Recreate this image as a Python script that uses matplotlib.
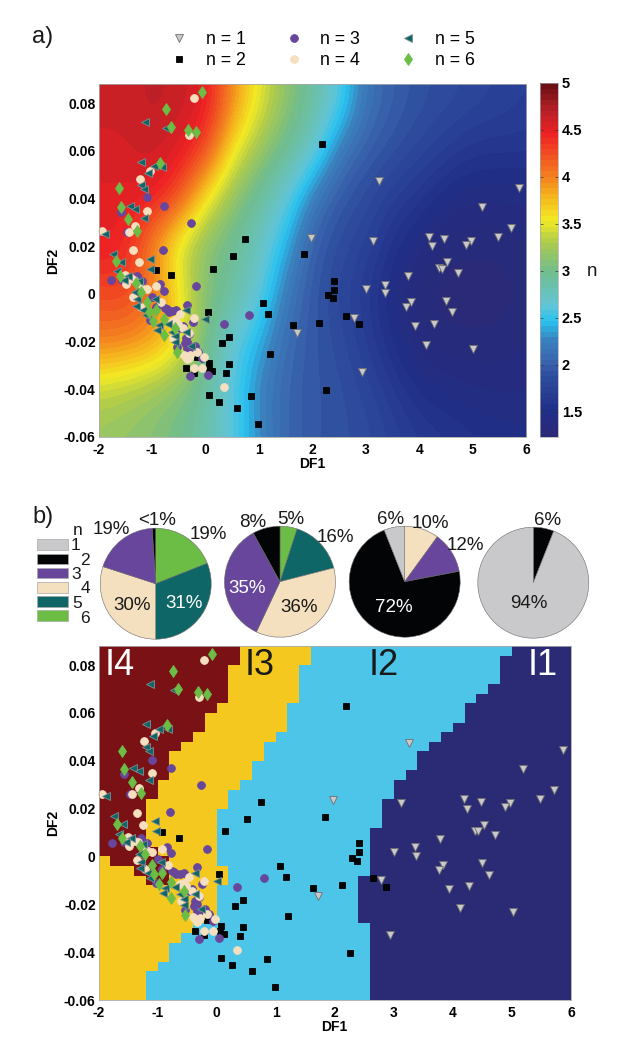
import numpy as np
import matplotlib
matplotlib.use("Agg")
import matplotlib.pyplot as plt
from matplotlib.colors import LinearSegmentedColormap, ListedColormap
from matplotlib.patches import Rectangle

plt.rcParams["font.family"] = ["Liberation Sans", "DejaVu Sans"]

W, H = 619, 1050

# ==========================
# Scatter points (DF1, DF2) for each n
# ==========================
n1_x = [3.25, 5.86, 5.18, 5.71, 5.47, 1.97, 3.13, 4.18, 4.47, 4.24, 4.97, 4.88, 4.52, 4.37, 4.43, 4.72,
        3.79, 3.36, 3.0, 3.37, 4.5, 3.84, 3.76, 4.62, 2.79, 4.28, 3.93, 4.12, 5.01, 2.94, 1.71]
n1_y = [0.0475, 0.0446, 0.0365, 0.0277, 0.0239, 0.0236, 0.0223, 0.024, 0.0229, 0.02, 0.0222, 0.0207, 0.0133, 0.0108, 0.0105, 0.0088,
        0.0074, 0.0038, 0.002, 0.0003, -0.0029, -0.0036, -0.0057, -0.0078, -0.01, -0.0125, -0.0135, -0.0214, -0.0232, -0.0328, -0.0165]

n2_x = [2.19, 1.84, 2.41, 2.41, 2.29, 2.38, 2.64, 2.87, 2.13, 2.25, 0.75, 0.51, 0.14, -0.93, -0.64, 1.07, 1.17, 1.64,
        0.44, 0.31, 0.04, 1.21, -0.16, 0.07, 0.44, -0.36, -0.22, 0.12, 0.39, 0.06, 0.07, 0.86, 0.26, 0.6, 0.98]
n2_y = [0.0629, 0.0166, 0.0056, 0.0017, -0.0005, -0.0018, -0.0091, -0.0127, -0.012, -0.0403, 0.0229, 0.0158, 0.0106, 0.0101, 0.0078, -0.0038, -0.0084, -0.0131,
        -0.0182, -0.0207, -0.0075, -0.025, -0.0265, -0.0291, -0.0295, -0.031, -0.033, -0.0322, -0.0331, -0.0312, -0.0426, -0.0429, -0.0454, -0.0479, -0.0544]

n3_x = [-1.09, -0.78, -1.57, -0.26, -1.46, -0.79, -1.77, -1.28, -1.18, -1.56, -0.84, -0.77, -0.17, -0.34, -0.55, -0.69, -0.75,
        0.81, 0.34, -0.24, -1.03, -0.47, -0.37, -0.34, -0.34, -0.54, -0.28, -0.13, -0.06, -0.29, 0.04, -0.93, -1.0,
        -0.62, -0.42, -0.3, -0.2, -0.38, -0.72]
n3_y = [0.0405, 0.0368, 0.0344, 0.0299, 0.026, 0.0186, 0.0057, 0.0077, 0.0056, 0.0059, 0.0041, 0.0014, 0.0032, -0.0045, -0.0067, -0.0074, -0.006,
        -0.0089, -0.0126, -0.0116, -0.0109, -0.0144, -0.0186, -0.02, -0.0228, -0.0224, -0.0228, -0.0242, -0.027, -0.0343, -0.034, -0.0053, -0.0011,
        -0.0072, -0.0135, -0.0168, -0.0218, -0.0205, -0.0065]

n4_x = [-0.21, -0.3, -1.04, -1.23, -1.1, -1.32, -1.94, -1.43, -1.35, -1.24, -1.5, -1.4, -1.48, -1.33, -1.09, -0.92, -1.35, -0.83,
        -0.47, -0.56, -0.62, -0.22, -0.3, -0.61, -0.16, -0.37, -0.31, -0.02, -0.21, -0.06, 0.34, -1.21,
        -1.25, -1.16, -0.52, -0.42, -0.4, -0.34, -0.28]
n4_y = [0.082, 0.0667, 0.0517, 0.0481, 0.0348, 0.0286, 0.0263, 0.0261, 0.0182, 0.0133, 0.008, 0.0066, 0.0042, 0.0059, 0.002, 0.0032, -0.0014, -0.0035,
        -0.0084, -0.0109, -0.0116, -0.0102, -0.0165, -0.0186, -0.0242, -0.0263, -0.027, -0.0263, -0.0312, -0.0312, -0.0391, -0.0053,
        0.0045, 0.0022, -0.0125, -0.0145, -0.0255, -0.0275, -0.0258]

n5_x = [-1.13, -0.73, -1.2, -0.97, -0.82, -1.07, -1.2, -1.14, -1.41, -1.31, -1.15, -1.87, -1.73, -1.58, -1.04, -1.03, -1.65, -1.45,
        -1.53, -1.25, -1.32, -1.28, -0.95, -1.3, -1.16, -0.36, 0.0, -1.12, -0.7, -0.87, -0.9, -0.62, -0.36, -0.56, -0.56, -0.26]
n5_y = [0.072, 0.0697, 0.0553, 0.0535, 0.0533, 0.0505, 0.0458, 0.044, 0.0369, 0.0358, 0.032, 0.0252, 0.0169, 0.0135, 0.0148, 0.0106, 0.0094, 0.0077,
        0.0059, 0.0052, 0.001, -0.0022, -0.0022, -0.005, -0.0067, -0.0067, -0.0104, -0.0088, -0.0126, -0.013, -0.0151, -0.0158, -0.0158, -0.0176, -0.0203, -0.022]

n6_x = [-0.07, -0.74, -0.65, -0.32, -0.17, -0.84, -1.61, -1.57, -1.44, -1.28, -1.68, -1.6, -1.3, -1.21, -1.09, -0.92, -1.06, -0.78, -0.98, -0.56, -0.77, -0.54]
n6_y = [0.0847, 0.0777, 0.0699, 0.0686, 0.0679, 0.0548, 0.0442, 0.0365, 0.0312, 0.0265, 0.0137, 0.0077, 0.0045, 0.001, -0.0036, -0.0067, -0.0074, -0.0106, -0.0113, -0.0143, -0.0172, -0.0243]

point_x = [n1_x, n2_x, n3_x, n4_x, n5_x, n6_x]
point_y = [n1_y, n2_y, n3_y, n4_y, n5_y, n6_y]

# ==========================
# Background surface of panel a
# rows go from DF2 = 0.08 down to -0.06, columns DF1 = -2 to 6 in 0.5 steps
# ==========================
field_n = np.array([
    [4.6, 4.6, 4.68, 4.62, 4.55, 3.95, 3.5, 3.15, 2.9, 2.6, 2.15, 2.0, 1.9, 1.85, 1.8, 1.75, 1.7],
    [4.58, 4.58, 4.62, 4.55, 4.3, 3.55, 3.2, 2.95, 2.7, 2.2, 2.0, 1.9, 1.8, 1.7, 1.6, 1.6, 1.6],
    [4.5, 4.5, 4.52, 4.25, 3.55, 3.15, 2.9, 2.65, 2.2, 1.95, 1.85, 1.7, 1.6, 1.45, 1.4, 1.4, 1.4],
    [4.5, 4.45, 3.95, 3.4, 3.1, 2.95, 2.75, 2.4, 2.0, 1.85, 1.75, 1.55, 1.4, 1.3, 1.3, 1.3, 1.35],
    [4.25, 4.3, 4.1, 3.6, 3.1, 2.9, 2.65, 2.2, 1.95, 1.8, 1.65, 1.45, 1.3, 1.25, 1.25, 1.25, 1.3],
    [4.05, 4.0, 3.9, 3.6, 3.0, 2.65, 2.4, 2.1, 1.95, 1.85, 1.7, 1.5, 1.35, 1.3, 1.3, 1.3, 1.35],
    [3.35, 3.3, 3.2, 3.1, 2.9, 2.6, 2.25, 2.05, 1.95, 1.9, 1.8, 1.65, 1.5, 1.45, 1.4, 1.4, 1.4],
    [3.2, 3.15, 3.1, 3.0, 2.85, 2.6, 2.3, 2.05, 1.95, 1.9, 1.85, 1.75, 1.65, 1.6, 1.55, 1.5, 1.5],
])

# ==========================
# Class regions of panel b: DF1 boundaries per row, top row first
# each row spans 0.004 in DF2, each column 0.2 in DF1
# ==========================
i4_left = [-2] * 22 + [-1.8, -1.4, -1.2] + [-2] * 12
i4_right = [0.4, 0.4, 0.2, 0.2, 0.2, 0.2, 0.0, -0.2, -0.2, -0.4, -0.6, -0.8, -0.8, -0.8, -1.0, -1.0, -1.2, -1.2,
            -1.2, -1.2, -1.2, -1.0, -0.8, -0.8, -0.8] + [-2] * 12
i3_right = [1.6, 1.6, 1.4, 1.4, 1.4, 1.4, 1.2, 1.2, 1.2, 1.0, 0.8, 0.8, 0.6, 0.6, 0.4, 0.2, 0.2, 0.0,
            0.0, 0.0, 0.0, 0.0, 0.0, 0.2, 0.2, 0.0, 0.0, 0.0, 0.0, -0.4, -0.6, -0.8, -0.8, -1.0, -1.2, -1.2, -1.2]
i2_right = [5.0, 4.8, 4.8, 4.8, 4.6, 4.4, 4.2, 4.2, 4.0, 3.8, 3.6, 3.4, 3.4, 3.2, 3.0, 3.0, 2.8, 2.8,
            2.8, 2.6, 2.6, 2.6, 2.6, 2.6, 2.4, 2.4, 2.4, 2.4, 2.4, 2.6, 2.6, 2.6, 2.6, 2.6, 2.6, 2.6, 2.6]

# ==========================
# Pie shares, clockwise from the top
# ==========================
pie_values = [[19, 31, 30, 19, 1], [5, 16, 36, 35, 8], [10, 12, 72, 6], [6, 94]]
pie_classes = [[5, 4, 3, 2, 1], [5, 4, 3, 2, 1], [3, 2, 1, 0], [1, 0]]

n_colors = ["#c9c9cb", "#030405", "#67469c", "#f4dfbf", "#0f6666", "#6cbd45"]
n_labels = ["n = 1", "n = 2", "n = 3", "n = 4", "n = 5", "n = 6"]
n_markers = ["v", "s", "o", "o", "<", "d"]
n_sizes = [5.6, 4.4, 5.6, 5.6, 6.0, 6.6]
n_edges = ["#6f6f6f", "#000000", "#67469c", "#f4dfbf", "#7f8f95", "#6cbd45"]

jet_like = LinearSegmentedColormap.from_list("jet_like", [
    (0.0, "#2a2a78"), (0.07, "#212f88"), (0.17, "#2f4e9f"), (0.21, "#3a64ad"), (0.27, "#3a82bf"),
    (0.325, "#29c3f0"), (0.37, "#63c5d6"), (0.47, "#72bd8c"), (0.55, "#aecb4d"), (0.615, "#f3ea24"),
    (0.68, "#f6b61e"), (0.73, "#f4871f"), (0.86, "#ee2225"), (0.93, "#b51f26"), (1.0, "#6e1114"),
], N=64)


def axes_px(left, top, right, bottom):
    return [left / W, 1 - bottom / H, (right - left) / W, (bottom - top) / H]


def style_map(ax):
    ax.set_xlim(-2, 6)
    ax.set_ylim(-0.06, 0.088)
    ax.set_xticks(range(-2, 7))
    ax.set_xticklabels([str(v) for v in range(-2, 7)])
    ax.set_yticks([-0.06, -0.04, -0.02, 0, 0.02, 0.04, 0.06, 0.08])
    ax.set_yticklabels(["-0.06", "-0.04", "-0.02", "0", "0.02", "0.04", "0.06", "0.08"])
    ax.tick_params(length=0, labelsize=10)
    ax.tick_params(axis="x", pad=4)
    ax.tick_params(axis="y", pad=2)
    for lab in ax.get_xticklabels() + ax.get_yticklabels():
        lab.set_fontweight("bold")
    for sp in ax.spines.values():
        sp.set_color("#a9a9a9")
        sp.set_linewidth(0.6)


def draw_points(ax):
    handles = []
    for i in range(6):
        h, = ax.plot(point_x[i], point_y[i], ls="none", marker=n_markers[i], ms=n_sizes[i],
                     mfc=n_colors[i], mec=n_edges[i], mew=0.6, label=n_labels[i], clip_on=False)
        handles.append(h)
    return handles


fig = plt.figure(figsize=(W / 100, H / 100), dpi=100)

# ==========================
# Panel a
# ==========================
ax_a = fig.add_axes(axes_px(98.5, 84, 526, 437))
im = ax_a.imshow(field_n, extent=[-2.25, 6.25, -0.07, 0.09], aspect="auto", cmap=jet_like, vmin=1.23, vmax=5,
                 interpolation="bicubic", interpolation_stage="data")
handles = draw_points(ax_a)
style_map(ax_a)
ax_a.set_xlabel("DF1", fontsize=10, fontweight="bold", labelpad=0)
ax_a.set_ylabel("DF2", fontsize=10, fontweight="bold", labelpad=3)
ax_a.legend(handles, n_labels, ncol=3, frameon=False, fontsize=12.8, loc="lower left",
            bbox_to_anchor=(0.13, 1.006), numpoints=1, handlelength=1.4, handletextpad=0.8,
            columnspacing=2.0, labelspacing=0.26, borderaxespad=0.3)

cax = fig.add_axes(axes_px(539.5, 83, 557.5, 437))
cbar = fig.colorbar(im, cax=cax, ticks=[1.5, 2, 2.5, 3, 3.5, 4, 4.5, 5])
cbar.ax.set_yticklabels(["1.5", "2", "2.5", "3", "3.5", "4", "4.5", "5"])
cbar.ax.tick_params(length=2, width=0.5, direction="in", pad=3, labelsize=10.5, color="#333333", right=True, left=True)
for lab in cbar.ax.get_yticklabels():
    lab.set_fontweight("bold")
cbar.outline.set_edgecolor("#a9a9a9")
cbar.outline.set_linewidth(0.5)

# ==========================
# Panel b map
# ==========================
grid_x = np.arange(-2, 6.01, 0.2)
grid_y = np.linspace(0.088, -0.06, 38)
centers_x = (grid_x[:-1] + grid_x[1:]) / 2
regions = np.zeros((37, 40), dtype=int)
for r in range(37):
    regions[r] = np.where(centers_x > i2_right[r], 0, np.where(centers_x > i3_right[r], 1, 2))
    regions[r][(centers_x > i4_left[r]) & (centers_x < i4_right[r])] = 3
region_cmap = ListedColormap(["#2a2a75", "#4dc5e8", "#f5c81f", "#7a1215"])

ax_b = fig.add_axes(axes_px(98.5, 646, 571, 1000))
ax_b.pcolormesh(grid_x, grid_y, regions, cmap=region_cmap, vmin=-0.5, vmax=3.5)
draw_points(ax_b)
style_map(ax_b)
ax_b.set_xlabel("DF1", fontsize=10, fontweight="bold", labelpad=0)
ax_b.set_ylabel("DF2", fontsize=10, fontweight="bold", labelpad=3)

# ==========================
# Pies
# ==========================
pie_centers = [(155.7, 583.7), (280, 581.7), (404.7, 581.7), (533.3, 582.7)]
pie_radius = 55.5
for center, values, classes in zip(pie_centers, pie_values, pie_classes):
    cx, cy = center
    ax = fig.add_axes(axes_px(cx - pie_radius, cy - pie_radius, cx + pie_radius, cy + pie_radius))
    ax.pie(values, colors=[n_colors[c] for c in classes], startangle=90, counterclock=False,
           wedgeprops={"edgecolor": "#6b6b6b", "linewidth": 0.4})
    ax.set_xlim(-1, 1)
    ax.set_ylim(-1, 1)

# ==========================
# Annotations, placed in pixel coordinates on an overlay
# ==========================
over = fig.add_axes([0, 0, 1, 1], zorder=10)
over.set_xlim(0, W)
over.set_ylim(H, 0)
over.axis("off")


def note(x, y, s, size=13.5, color="#1a1a1a", **kw):
    over.text(x, y, s, fontsize=size, color=color, ha="center", va="center_baseline", **kw)


note(43, 35, "a)", size=17)
note(43, 514, "b)", size=17)
note(592, 269, "n", size=13.5)

pie_texts = [
    (111.7, 527.3, "19%", "#1a1a1a"), (157.3, 518.3, "<1%", "#1a1a1a"), (208.3, 532.3, "19%", "#1a1a1a"),
    (132.3, 603.3, "30%", "#1a1a1a"), (184.3, 601, "31%", "white"), (252.3, 520.7, "8%", "#1a1a1a"),
    (290.7, 517.3, "5%", "#1a1a1a"), (335, 535, "16%", "#1a1a1a"), (246.7, 586.7, "35%", "white"),
    (298.7, 605.3, "36%", "#1a1a1a"), (390.7, 517.7, "6%", "#1a1a1a"), (430.7, 521, "10%", "#1a1a1a"),
    (465.3, 544, "12%", "#1a1a1a"), (394.3, 605, "72%", "white"), (547.7, 518.3, "6%", "#1a1a1a"),
    (529, 601.7, "94%", "#1a1a1a"),
]
for x, y, s, c in pie_texts:
    note(x, y, s, color=c)

key_tops = [539.3, 553.7, 568, 582.3, 596.3, 610.3]
key_label_x = [76, 85, 76, 85, 76.7, 85]
key_label_y = [544.3, 559, 573, 587.3, 601.7, 616.7]
note(78, 529, "n", size=12.5)
for i in range(6):
    over.add_patch(Rectangle((37.3, key_tops[i]), 30.4, 10.2, fc=n_colors[i], ec="#a8a8a8", lw=0.5))
    note(key_label_x[i], key_label_y[i], str(i + 1), size=12.5)

region_texts = [(119.3, 661.7, "I4", "white"), (260, 661.7, "I3", "#1a1a1a"),
                (383.3, 661.7, "I2", "#1a1a1a"), (542.7, 661.7, "I1", "white")]
for x, y, s, c in region_texts:
    note(x, y, s, size=26, color=c)

fig.savefig("out.png", dpi=100)
